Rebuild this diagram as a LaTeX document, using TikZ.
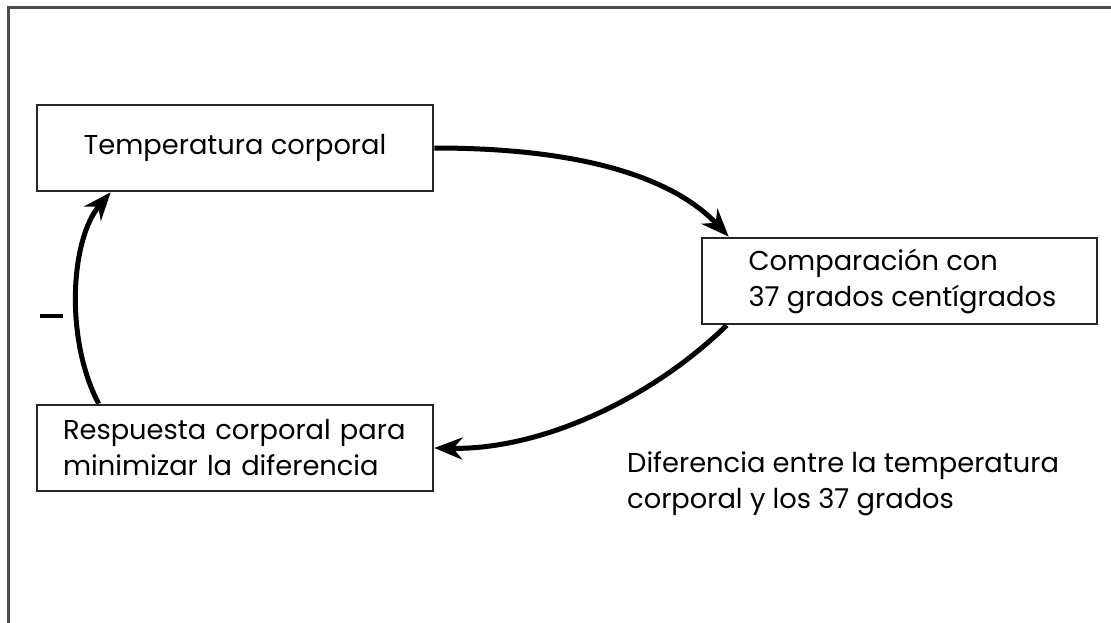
\documentclass[tikz,border=0pt]{standalone}
\usepackage{fontspec}
\setmainfont{Poppins}
\usetikzlibrary{arrows.meta,calc}
\begin{document}
\begin{tikzpicture}[x=1pt,y=-1pt,
  txt/.style={font=\fontsize{27.3}{36}\selectfont},
  box/.style={txt,draw=black!85,line width=2.6pt,rectangle,minimum height=86pt},
  flow/.style={line width=5pt,-{Stealth[length=28pt,width=22pt,inset=9pt]}},
  frameline/.style={draw=black!70,line width=3pt}]
  \useasboundingbox (0,0) rectangle (1111,623);
  % open frame: top and left edges only
  \draw[frameline] (8,623) -- (8,8) -- (1111,8);
  % blocks of the loop
  \node[box,minimum width=396pt] (temp) at (235,148) {Temperatura corporal};
  \node[box,minimum width=395pt,align=left] (comp) at (899.5,281)
    {\hspace*{6pt}Comparación con\\\hspace*{6pt}37 grados centígrados};
  \node[box,text width=344pt,inner xsep=26pt,align=left] (resp) at (235,448)
    {Respuesta corporal para\\minimizar la diferencia};
  \coordinate (compin) at ($(comp.north west)+(28,0)$);
  \coordinate (compout) at ($(comp.south west)+(26,0)$);
  \coordinate (respout) at ($(resp.north west)+(63,0)$);
  \coordinate (tempin) at ($(temp.south west)+(75,0)$);
  % connectors
  \draw[flow] (temp.east) .. controls (600,148) and (680,185) .. (compin);
  \draw[flow] (compout) .. controls (650,400) and (540,450) .. (resp.east);
  \draw[flow] (respout) .. controls (65,340) and (70,240) .. (tempin);
  % sign of the feedback
  \node[inner sep=0pt] (sign) at (51,316) {\rule{23pt}{3.5pt}};
  % note under the comparison block
  \node[txt,anchor=north west,align=left,inner sep=0pt] (note) at (627,451)
    {Diferencia entre la temperatura\\corporal y los 37 grados};
\end{tikzpicture}
\end{document}
